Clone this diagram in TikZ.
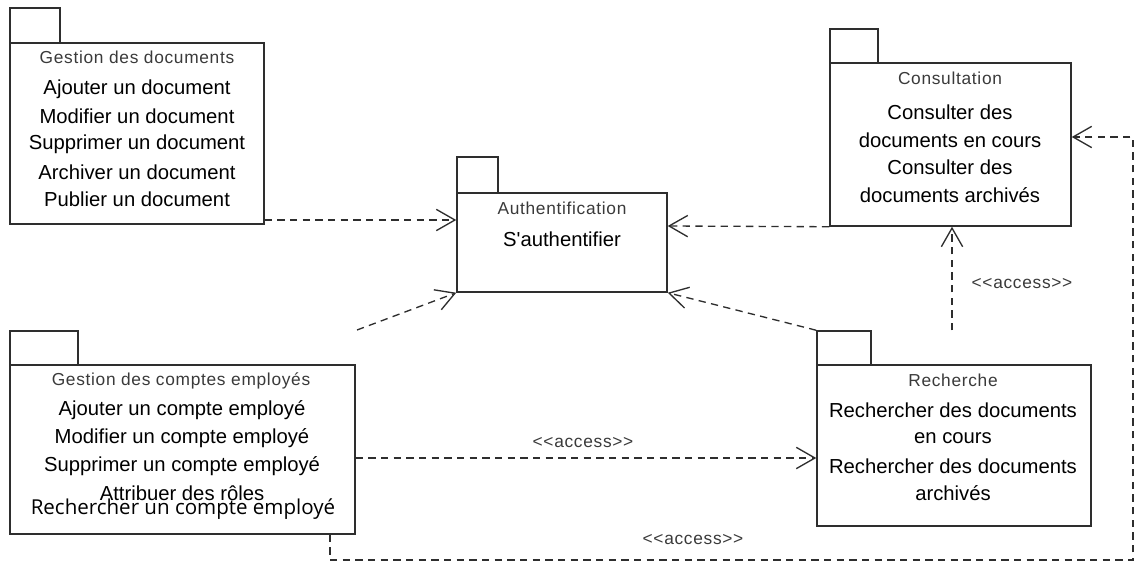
\documentclass[tikz,border=0pt]{standalone}
\usepackage{fontspec}
\setmainfont{Liberation Sans}[Ligatures=TeXOff]
\newfontfamily\extrafont{Open Sans}
\usetikzlibrary{arrows.meta,fit,calc}
\definecolor{edge}{HTML}{2E2E2E}
\definecolor{titlegray}{HTML}{3A3A3A}
\begin{document}
\begin{tikzpicture}[x=0.75pt,y=-0.75pt,
  pkgbody/.style={draw=edge,line width=1.1pt,inner sep=0pt,fill=white},
  pkgtab/.style={draw=edge,line width=1.1pt,inner sep=0pt},
  pkgtitle/.style={font=\fontsize{13}{15}\selectfont\addfontfeatures{LetterSpace=4},text=titlegray,inner sep=0pt},
  pkgitem/.style={font=\fontsize{15.2}{18}\selectfont,text=black,inner sep=0pt},
  dep/.style={draw=edge,line width=1pt,dash pattern=on 5.5pt off 4pt,
    -{Straight Barb[length=14pt,width=16pt,line width=1pt]}},
  deplabel/.style={font=\fontsize{13}{15}\selectfont\addfontfeatures{LetterSpace=4},text=titlegray,inner sep=0pt}]

\useasboundingbox (0,0) rectangle (1134,563);

% --- Gestion des documents ---
\node[pkgtab,fit={(10,8)(60,43)}] (gdtab) {};
\node[pkgbody,fit={(10,43)(264,224)}] (gd) {};
\node[pkgtitle] (gdt) at (137,57) {Gestion des documents};
\node[pkgitem] (gd1) at (137,89) {Ajouter un document};
\node[pkgitem] (gd2) at (137,116) {Modifier un document};
\node[pkgitem] (gd3) at (137,144) {Supprimer un document};
\node[pkgitem] (gd4) at (137,172) {Archiver un document};
\node[pkgitem] (gd5) at (137,199) {Publier un document};

% --- Authentification ---
\node[pkgtab,fit={(457,157)(498,193)}] (authtab) {};
\node[pkgbody,fit={(457,193)(667,292)}] (auth) {};
\node[pkgtitle] (autht) at (562,208) {Authentification};
\node[pkgitem] (auth1) at (562,239) {S'authentifier};

% --- Consultation ---
\node[pkgtab,fit={(830,29)(878,63)}] (constab) {};
\node[pkgbody,fit={(830,63)(1071,226)}] (cons) {};
\node[pkgtitle] (const) at (950,78) {Consultation};
\node[pkgitem] (cons1) at (950,112) {Consulter des};
\node[pkgitem] (cons2) at (950,140) {documents en cours};
\node[pkgitem] (cons3) at (950,167) {Consulter des};
\node[pkgitem] (cons4) at (950,195) {documents archivés};

% --- Gestion des comptes employés ---
\node[pkgtab,fit={(10,331)(78,365)}] (gctab) {};
\node[pkgbody,fit={(10,365)(355,534)}] (gc) {};
\node[pkgtitle] (gct) at (181,381) {Gestion des comptes employés};
\node[pkgitem] (gc1) at (182,410) {Ajouter un compte employé};
\node[pkgitem] (gc2) at (182,438) {Modifier un compte employé};
\node[pkgitem] (gc3) at (182,466) {Supprimer un compte employé};
\node[pkgitem] (gc4) at (182,493) {Attribuer des rôles};
\node[inner sep=0pt,font=\extrafont\fontsize{15.4}{17}\selectfont] (gc5) at (183,509) {Rechercher un compte employé};

% --- Recherche ---
\node[pkgtab,fit={(817,331)(871,365)}] (rechtab) {};
\node[pkgbody,fit={(817,365)(1091,526)}] (rech) {};
\node[pkgtitle] (recht) at (953,380) {Recherche};
\node[pkgitem] (rech1) at (953,410) {Rechercher des documents};
\node[pkgitem] (rech2) at (953,438) {en cours};
\node[pkgitem] (rech3) at (953,466) {Rechercher des documents};
\node[pkgitem] (rech4) at (953,493) {archivés};

% --- dependencies ---
\coordinate (gcout) at (357,330);
\draw[dep] (gd.south east |- 0,220) -- (auth.west |- 0,220);
\draw[dep] (gcout) -- (auth.south west);
\draw[dep] (cons.south west) -- (auth.east |- 0,226);
\draw[dep] (rechtab.north west) -- (auth.south east);
\draw[dep] (rechtab.north -| 952,0) -- (cons.south -| 952,0);
\node[deplabel] (acc1) at (1022,284) {<<access>>};
\draw[dep] (gc.east |- 0,458) -- (rech.west |- 0,458);
\node[deplabel] (acc2) at (583,443) {<<access>>};
\draw[dep] (gc.south -| 330,0) -- (330,560) -- (1133,560) -- (1133,137) -- (cons.east |- 0,137);
\node[deplabel] (acc3) at (693,540) {<<access>>};
\end{tikzpicture}
\end{document}
